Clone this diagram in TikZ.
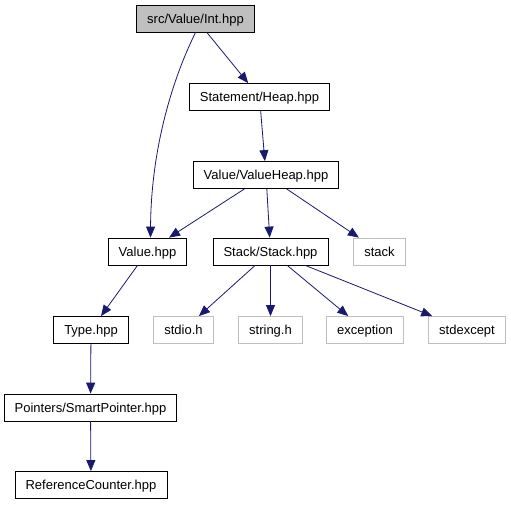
\documentclass[tikz,border=0pt]{standalone}
\usepackage{fontspec}
\setmainfont{Liberation Sans}
\usetikzlibrary{arrows.meta}
\definecolor{edgeblue}{HTML}{191970}
\definecolor{sysgray}{HTML}{BFBFBF}

\begin{document}
\begin{tikzpicture}[x=1pt,y=-1pt,
                    file/.style={draw=black,line width=0.8pt,fill=white,inner xsep=10.5pt,
                        text height=9.3pt,text depth=0pt,
                        minimum height=27pt,font=\fontsize{13}{15}\selectfont},
                    sysfile/.style={file,draw=sysgray},
                    dep/.style={-{Triangle[length=11pt,width=9pt]},draw=edgeblue,line width=0.8pt}]
                    \useasboundingbox (0,0) rectangle (511,504);
                    % files
                    \node[file,fill=sysgray,line width=1pt] (int) at (195.5,18.5) {src/Value/Int.hpp};
                    \node[file] (heap) at (259.5,97) {Statement/Heap.hpp};
                    \node[file] (valueheap) at (266,175) {Value/ValueHeap.hpp};
                    \node[file] (value) at (147.5,251.5) {Value.hpp};
                    \node[file] (stackh) at (270.5,251.5) {Stack/Stack.hpp};
                    \node[sysfile] (stack) at (379.5,251.5) {stack};
                    \node[file] (type) at (91,330) {Type.hpp};
                    \node[sysfile] (stdio) at (183.5,330) {stdio.h};
                    \node[sysfile] (string) at (270.5,330) {string.h};
                    \node[sysfile] (exception) at (365,330) {exception};
                    \node[sysfile] (stdexcept) at (467,330) {stdexcept};
                    \node[file] (smartptr) at (90.5,407.5) {Pointers/SmartPointer.hpp};
                    \node[file] (refcount) at (91,485) {ReferenceCounter.hpp};
                    % includes
                    \draw[dep] (int) -- (heap);
                    \draw[dep] (int.south) .. controls (172,80) and (151,150) .. ([xshift=3pt]value.north);
                    \draw[dep] (heap) -- (valueheap);
                    \draw[dep] (valueheap) -- (value);
                    \draw[dep] (valueheap) -- (stackh);
                    \draw[dep] (valueheap) -- (stack);
                    \draw[dep] (value) -- (type);
                    \draw[dep] (stackh) -- (stdio);
                    \draw[dep] (stackh) -- (string);
                    \draw[dep] (stackh) -- (exception);
                    \draw[dep] (stackh) -- (stdexcept);
                    \draw[dep] (type) -- (smartptr);
                    \draw[dep] (smartptr) -- (refcount);
                \end{tikzpicture}
\end{document}
